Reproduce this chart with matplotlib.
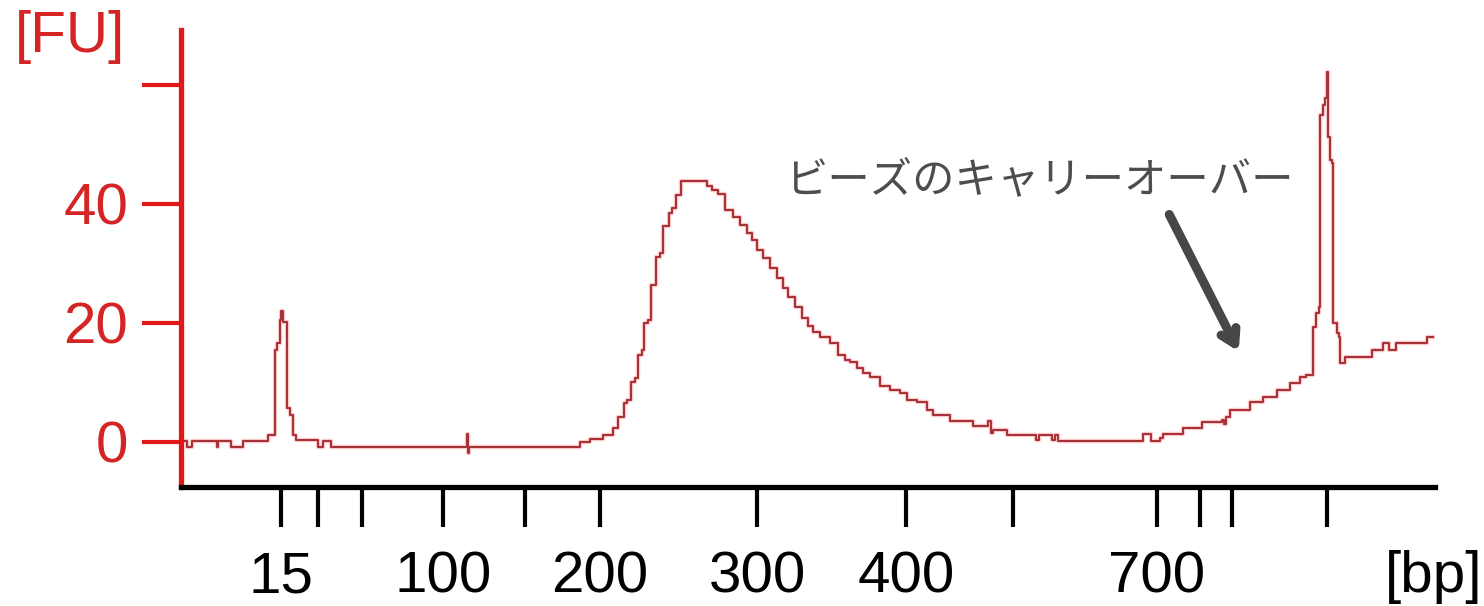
import numpy as np
import matplotlib
matplotlib.use("Agg")
import matplotlib.pyplot as plt

plt.rcParams['font.family'] = ['Liberation Sans Narrow', 'Liberation Sans', 'DejaVu Sans']

# migration position (run-time scale) and fluorescence [FU]
pos = [181, 187, 192, 217, 218, 231, 243, 268, 275, 277, 280, 281, 283, 287,
       290, 293, 296, 318, 323, 331, 467, 468, 469, 471, 580, 590, 603, 613,
       618, 624, 627, 631, 635, 638, 642, 644, 648, 651, 656, 660, 663, 669,
       672, 676, 681, 707, 712, 718, 725, 733, 740, 747, 752, 757, 763, 770,
       777, 783, 788, 795, 802, 808, 813, 820, 830, 838, 845, 850, 857, 863,
       870, 880, 890, 900, 907, 917, 927, 933, 950, 973, 988, 991, 993, 1007,
       1036, 1039, 1052, 1055, 1058, 1143, 1151, 1160, 1163, 1183, 1202, 1222,
       1224, 1226, 1230, 1250, 1263, 1277, 1290, 1300, 1306, 1313, 1316, 1319,
       1320, 1323, 1325, 1327, 1328, 1330, 1332, 1333, 1337, 1339, 1340, 1345,
       1372, 1383, 1389, 1396, 1427, 1433]
fu = [0.2, -0.8, 0.2, -0.8, 0.2, -0.8, 0.2, 1.2, 15.5, 16.6, 20.5, 22.0, 20.2, 5.7,
      4.5, 1.2, 0.3, -0.8, 0.2, -0.8, 1.3, -1.8, -0.8, -0.8, 0.0, 0.5, 1.2, 2.4,
      4.2, 6.6, 7.1, 10.0, 10.8, 14.6, 15.5, 20.0, 20.5, 26.4, 31.0, 31.8, 36.2, 38.5,
      39.3, 41.5, 43.9, 43.0, 42.4, 41.7, 39.0, 37.8, 36.5, 35.1, 33.9, 32.3, 30.9, 29.2,
      27.6, 25.9, 24.4, 22.7, 20.8, 19.5, 18.5, 17.6, 16.6, 14.6, 13.8, 13.4, 12.4, 11.6,
      10.9, 9.4, 8.7, 8.2, 7.1, 6.7, 5.4, 4.5, 3.5, 2.7, 3.5, 1.5, 2.0, 1.2,
      0.3, 1.2, 0.3, 1.2, 0.2, 1.3, 0.2, 0.7, 1.3, 2.4, 3.4, 3.7,
      3.0, 4.2, 5.4, 6.7, 7.6, 8.7, 9.9, 10.9, 11.3, 19.3, 21.7, 22.7,
      55.0, 56.6, 57.8, 62.2, 51.3, 47.4, 46.9, 20.0, 18.3, 17.6, 13.3, 14.3,
      15.5, 16.6, 15.5, 16.6, 17.6, 17.6]

x_ticks = [281, 318, 362, 443, 525, 600, 757, 906, 1013, 1157, 1200, 1232, 1327]
x_labels = ['15', '', '', '100', '', '200', '300', '400', '', '700', '', '', '']
y_ticks = [0, 20, 40, 60]
y_labels = ['0', '20', '40', '']

red = '#e01818'
red_txt = '#d42424'

fig = plt.figure(figsize=(14.84, 6.06), dpi=100)
ax = fig.add_axes([181 / 1484, 1 - 487 / 606, (1435 - 181) / 1484, (487 - 30) / 606])

ax.plot(pos, fu, drawstyle='steps-post', color='#ffb0b0', lw=3.2, alpha=0.6)
ax.plot(pos, fu, drawstyle='steps-post', color='#a8323a', lw=1.5)

ax.set_xlim(181, 1435)
ax.set_ylim(-7.56, 69.2)

for s in ['top', 'right']:
    ax.spines[s].set_visible(False)
ax.spines['left'].set_color(red)
ax.spines['left'].set_linewidth(3.8)
ax.spines['bottom'].set_color('black')
ax.spines['bottom'].set_linewidth(3.8)

ax.set_xticks(x_ticks)
ax.set_xticklabels(x_labels)
ax.set_yticks(y_ticks)
ax.set_yticklabels(y_labels)
ax.tick_params(axis='x', length=29, width=3, color='black', labelsize=42, pad=17)
ax.tick_params(axis='y', length=28, width=3, color=red, labelcolor=red_txt,
               labelsize=42, pad=10)

fig.text(15 / 1484, 1 - 10 / 606, '[FU]', color=red_txt, fontsize=42,
         ha='left', va='top')
fig.text(1482 / 1484, 1 - 604 / 606, '[bp]', color='black', fontsize=42,
         ha='right', va='bottom')

ax.annotate('', xy=(1240, 606 - 354), xycoords='figure pixels',
            xytext=(1168, 606 - 212), textcoords='figure pixels',
            arrowprops=dict(arrowstyle='->,head_length=1.0,head_width=0.6',
                            color='#474747', lw=6.5))
fig.text(1039 / 1484, 1 - 180 / 606, 'ビーズのキャリーオーバー', color='#4d4d4d',
         fontsize=30.5, ha='center', va='center',
         family=['Noto Sans CJK JP', 'DejaVu Sans'])

fig.savefig('out.png', dpi=100)
